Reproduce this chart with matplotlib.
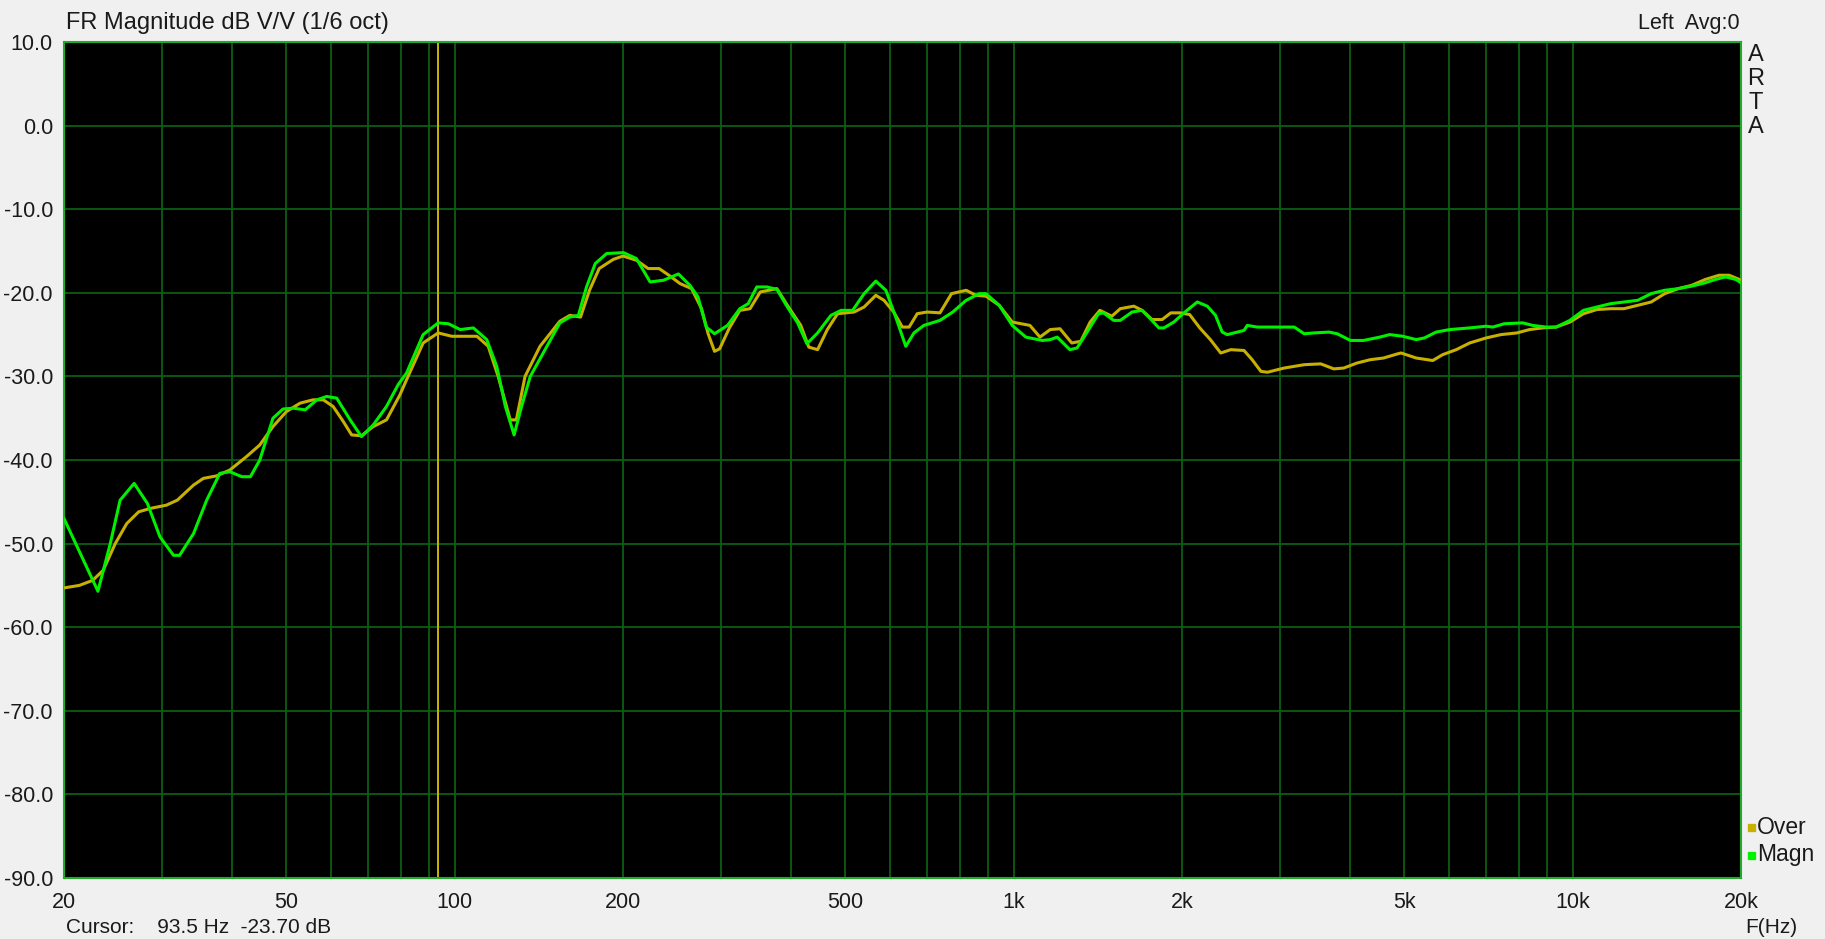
import matplotlib
matplotlib.use("Agg")
import matplotlib.pyplot as plt
from matplotlib.ticker import FixedLocator, NullFormatter
import numpy as np

# ARTA frequency response, 1/6 oct smoothing
freq_magn = [20, 23.0, 24.2, 25.2, 26.7, 28.2, 29.7, 31.4, 32.2, 34.1, 36.0, 38.0, 39.6, 41.6, 43.1,
             44.8, 47.3, 49.3, 51.4, 54.0, 56.7, 59.0, 61.5, 65.0, 68.1, 71.5, 75.5, 79.2, 82.0, 87.8,
             93.4, 97.4, 102.3, 108.0, 114.1, 118.9, 123.2, 127.7, 131.7, 136.5, 144.0, 154.2, 160.7,
             166.4, 172.1, 178.4, 187.0, 200.5, 211.3, 223.6, 236.3, 251.3, 263.4, 272.4, 281.8, 291.6,
             307.6, 323.6, 335, 347, 361.8, 377.2, 393.6, 410.6, 426.6, 445.8, 471, 491, 515, 540,
             566.6, 590.6, 615, 641, 663, 690.6, 738, 778, 822, 868, 892, 942, 994, 1051, 1125, 1162,
             1196, 1260, 1298, 1353, 1418, 1447, 1509, 1551, 1628, 1697, 1756, 1818, 1856, 1934, 2016,
             2130, 2220, 2296, 2360, 2410, 2512, 2582, 2617, 2727, 3176, 3308, 3447, 3666, 3791, 4002,
             4224, 4518, 4704, 4966, 5248, 5428, 5696, 6020, 6542, 7000, 7194, 7546, 8140, 8480, 8964,
             9340, 9884, 10450, 11052, 11684, 12352, 13068, 13814, 14606, 15448, 16332, 17270, 18006,
             18774, 19572, 20000]
db_magn = [-47.0, -55.7, -50.0, -44.8, -42.8, -45.2, -49.2, -51.4, -51.4, -48.8, -44.8, -41.6, -41.4,
           -42.0, -42.0, -40.0, -35.0, -33.9, -33.8, -34.0, -32.8, -32.4, -32.6, -35.2, -37.2, -35.8,
           -33.6, -31.0, -29.6, -25.0, -23.6, -23.7, -24.4, -24.2, -25.6, -28.8, -33.6, -37.0, -33.6,
           -30.0, -27.2, -23.6, -22.9, -22.7, -19.3, -16.5, -15.3, -15.2, -15.9, -18.7, -18.5, -17.75,
           -19.1, -20.5, -24.1, -24.9, -23.9, -21.9, -21.3, -19.3, -19.3, -19.6, -21.7, -23.6, -26.1,
           -24.8, -22.7, -22.1, -22.1, -20.1, -18.6, -19.7, -22.9, -26.4, -24.8, -23.9, -23.3, -22.3,
           -20.9, -20.1, -20.1, -21.5, -23.9, -25.3, -25.7, -25.6, -25.3, -26.8, -26.6, -24.7, -22.5,
           -22.4, -23.3, -23.3, -22.3, -22.1, -23.1, -24.2, -24.2, -23.5, -22.4, -21.1, -21.6, -22.7,
           -24.7, -25.0, -24.7, -24.5, -23.9, -24.1, -24.1, -24.9, -24.8, -24.7, -24.9, -25.7, -25.7,
           -25.3, -25.0, -25.2, -25.6, -25.4, -24.7, -24.4, -24.2, -24.0, -24.1, -23.7, -23.6, -23.9,
           -24.1, -24.1, -23.3, -22.1, -21.7, -21.3, -21.1, -20.9, -20.1, -19.7, -19.5, -19.2, -18.8,
           -18.4, -18.1, -18.4, -18.8]

freq_over = [20, 21.3, 22.5, 23.5, 24.7, 25.9, 27.2, 28.5, 30.5, 31.9, 34.1, 35.5, 37.5, 39.6, 42.4,
             44.8, 47.3, 50.0, 52.9, 55.8, 58.2, 60.6, 63.2, 65.4, 68.1, 71.5, 75.5, 79.8, 82.0, 87.8,
             93.4, 98.8, 109.6, 114.8, 119.6, 125.7, 128.9, 133.6, 142.1, 154.2, 160.7, 167.9, 174.2,
             181.3, 192.2, 200, 211.3, 221.8, 232.1, 241.6, 253.0, 265.3, 276.4, 284.0, 291.6, 297.8,
             310, 323.6, 337.5, 352, 377, 393.6, 416, 430, 445.8, 464, 484, 518, 540, 566.6, 586, 610,
             632, 650, 672, 700, 738, 774, 822, 856, 892, 942, 994, 1069, 1114, 1162, 1210, 1270, 1318,
             1370, 1426, 1498, 1551, 1640, 1697, 1768, 1843, 1910, 1986, 2064, 2152, 2248, 2346, 2446,
             2582, 2670, 2768, 2844, 3046, 3308, 3542, 3738, 3894, 4112, 4344, 4588, 4862, 4932, 5248,
             5618, 5852, 6190, 6542, 7000, 7442, 7946, 8368, 8826, 9340, 9884, 10450, 11052, 11684,
             12352, 13068, 13814, 14606, 15448, 16332, 17270, 18266, 19046, 19866, 20000]
db_over = [-55.3, -55.0, -54.4, -53.2, -50.0, -47.6, -46.2, -45.8, -45.4, -44.8, -43.0, -42.2, -41.9,
           -41.2, -39.6, -38.2, -36.0, -34.2, -33.2, -32.8, -32.8, -33.6, -35.4, -37.0, -37.1, -36.0,
           -35.2, -32.2, -30.4, -26.0, -24.8, -25.2, -25.2, -26.4, -30.0, -35.2, -35.2, -30.0, -26.4,
           -23.4, -22.7, -22.9, -19.7, -17.1, -16.0, -15.6, -16.1, -17.1, -17.1, -17.9, -18.9, -19.5,
           -21.9, -24.9, -27.0, -26.7, -24.2, -22.1, -21.9, -19.9, -19.5, -21.5, -23.9, -26.5, -26.8,
           -24.4, -22.5, -22.3, -21.7, -20.3, -20.9, -22.3, -24.1, -24.1, -22.5, -22.3, -22.4, -20.1,
           -19.7, -20.3, -20.4, -21.5, -23.5, -23.9, -25.3, -24.4, -24.3, -26.0, -25.8, -23.5, -22.1,
           -22.8, -21.9, -21.6, -22.1, -23.2, -23.2, -22.4, -22.4, -22.6, -24.2, -25.6, -27.2, -26.8,
           -26.9, -28.0, -29.4, -29.5, -29.0, -28.6, -28.5, -29.1, -29.0, -28.4, -28.0, -27.8, -27.3,
           -27.2, -27.8, -28.1, -27.4, -26.8, -26.0, -25.4, -25.0, -24.8, -24.4, -24.2, -24.1, -23.5,
           -22.5, -22.0, -21.9, -21.9, -21.5, -21.1, -20.1, -19.5, -19.1, -18.4, -17.9, -17.9, -18.4,
           -18.7]

cursor_freq = 93.5
x_ticks = [20, 50, 100, 200, 500, 1000, 2000, 5000, 10000, 20000]
x_labels = ['20', '50', '100', '200', '500', '1k', '2k', '5k', '10k', '20k']
y_ticks = list(range(-90, 11, 10))

W, H = 1825, 939
plt.rcParams['font.family'] = ['Liberation Sans', 'DejaVu Sans']
fig = plt.figure(figsize=(W / 100, H / 100), dpi=100, facecolor='#f0f0f0')

def fx(px):
    return px / W

def fy(py):
    return 1 - py / H

ax = fig.add_axes([fx(64), fy(878), fx(1741 - 64), (878 - 42) / H])
ax.set_facecolor('black')
ax.set_xscale('log')
ax.set_xlim(20, 20000)
ax.set_ylim(-90, 10)

grid_col = '#0b5e12'
minor = [m * 10 ** e for e in range(1, 5) for m in range(1, 10) if 20 <= m * 10 ** e <= 20000]
for f in minor:
    ax.axvline(f, color=grid_col, lw=1.3, zorder=1)
for y in y_ticks:
    ax.axhline(y, color=grid_col, lw=1.3, zorder=1)

ax.axvline(cursor_freq, color='#c8b400', lw=1.4, zorder=2)

ax.plot(freq_over, db_over, color='#c8b000', lw=2.2, zorder=3)
ax.plot(freq_magn, db_magn, color='#00f000', lw=2.2, zorder=4)

ax.xaxis.set_major_locator(FixedLocator(x_ticks))
ax.xaxis.set_minor_formatter(NullFormatter())
ax.set_xticks(x_ticks)
ax.set_xticklabels(x_labels)
ax.set_yticks(y_ticks)
ax.set_yticklabels(['%.1f' % v for v in y_ticks])
ax.tick_params(which='both', length=0, labelsize=15.5, colors='#1a1a1a')
ax.tick_params(axis='y', pad=8)
ax.tick_params(axis='x', pad=10)
for s in ax.spines.values():
    s.set_color('#1faa2a')
    s.set_linewidth(1.5)

fig.text(fx(66), fy(23), 'FR Magnitude dB V/V (1/6 oct)', fontsize=17, va='center', ha='left', color='#1a1a1a')
fig.text(fx(1740), fy(24), 'Left  Avg:0', fontsize=15.5, va='center', ha='right', color='#1a1a1a')
for i, ch in enumerate('ARTA'):
    fig.text(fx(1756), fy(55 + 24 * i), ch, fontsize=17, va='center', ha='center', color='#1a1a1a')

fig.patches.append(plt.Rectangle((fx(1748), fy(831)), fx(7), 7 / H, color='#c8b000', transform=fig.transFigure))
fig.text(fx(1757), fy(827), 'Over', fontsize=16.5, va='center', ha='left', color='#1a1a1a')
fig.patches.append(plt.Rectangle((fx(1748), fy(859)), fx(7), 7 / H, color='#00f000', transform=fig.transFigure))
fig.text(fx(1757), fy(855), 'Magn', fontsize=16.5, va='center', ha='left', color='#1a1a1a')

fig.text(fx(66), fy(937), 'Cursor:    93.5 Hz  -23.70 dB', fontsize=15, va='bottom', ha='left', color='#1a1a1a')
fig.text(fx(1745), fy(937), 'F(Hz)', fontsize=15, va='bottom', ha='left', color='#1a1a1a')

fig.savefig('out.png', dpi=100, facecolor=fig.get_facecolor())
